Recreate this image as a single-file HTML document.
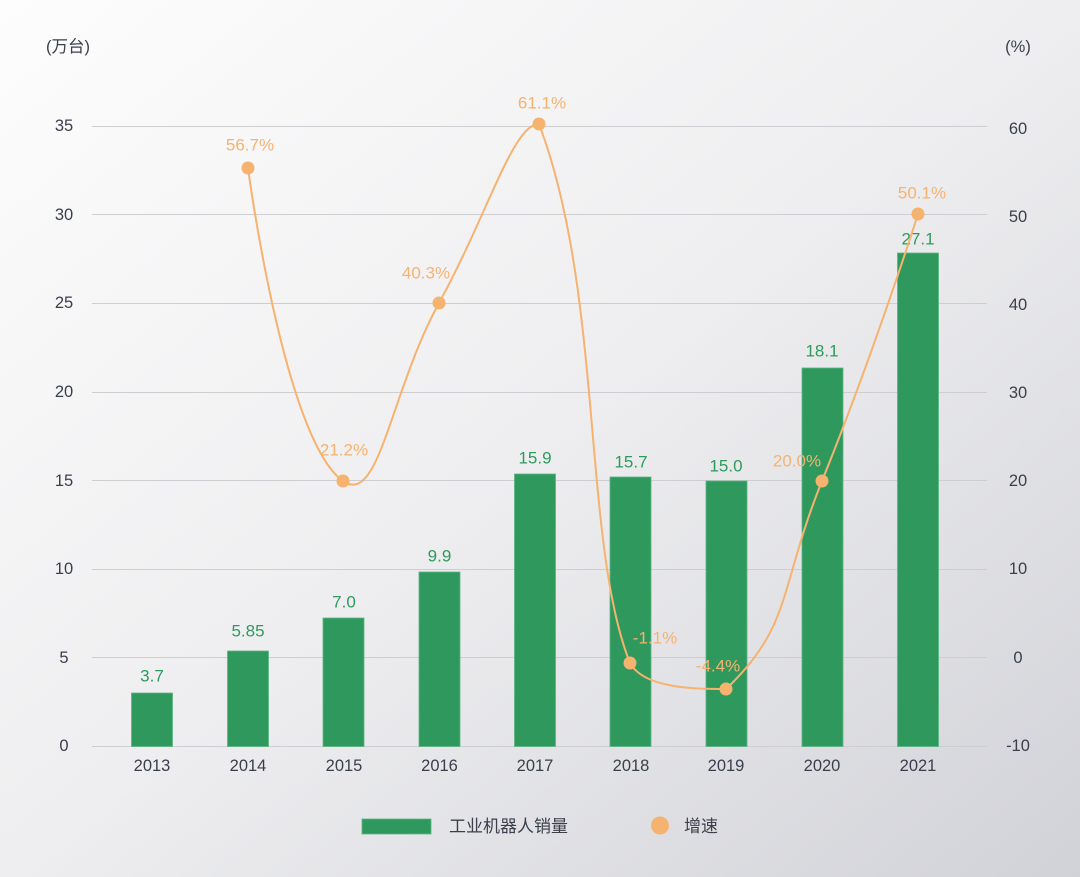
<!DOCTYPE html>
<html>
<head>
<meta charset="utf-8">
<style>
  html,body{margin:0;padding:0;}
  body{width:1080px;height:877px;overflow:hidden;}
  svg{display:block;}
  text{font-family:"Liberation Sans","Noto Sans CJK SC",sans-serif;}
</style>
</head>
<body>
<svg width="1080" height="877" viewBox="0 0 1080 877" xmlns="http://www.w3.org/2000/svg">
  <defs>
    <linearGradient id="bg" x1="0" y1="0" x2="1" y2="1">
      <stop offset="0" stop-color="#fdfdfd"/>
      <stop offset="0.5" stop-color="#eeeef0"/>
      <stop offset="1" stop-color="#d1d2d8"/>
    </linearGradient>
  </defs>
  <rect x="0" y="0" width="1080" height="877" fill="url(#bg)"/>

  <!-- gridlines -->
  <g stroke="#cdcdd2" stroke-width="1">
    <line x1="92" y1="126.5" x2="987" y2="126.5"/>
    <line x1="92" y1="214.5" x2="987" y2="214.5"/>
    <line x1="92" y1="303.5" x2="987" y2="303.5"/>
    <line x1="92" y1="392.5" x2="987" y2="392.5"/>
    <line x1="92" y1="480.5" x2="987" y2="480.5"/>
    <line x1="92" y1="569.5" x2="987" y2="569.5"/>
    <line x1="92" y1="657.5" x2="987" y2="657.5"/>
    <line x1="92" y1="746.5" x2="987" y2="746.5"/>
  </g>

  <!-- axis titles -->
  <g fill="#3a3f4b" font-size="16.5" dominant-baseline="central">
    <text x="68" y="47" text-anchor="middle">(万台)</text>
    <text x="1018" y="47" text-anchor="middle">(%)</text>
  </g>

  <!-- left ticks -->
  <g fill="#3a3f4b" font-size="16.5" text-anchor="middle" dominant-baseline="central">
    <text x="64" y="126">35</text>
    <text x="64" y="215">30</text>
    <text x="64" y="303">25</text>
    <text x="64" y="392">20</text>
    <text x="64" y="481">15</text>
    <text x="64" y="569">10</text>
    <text x="64" y="658">5</text>
    <text x="64" y="746">0</text>
  </g>

  <!-- right ticks -->
  <g fill="#3a3f4b" font-size="16.5" text-anchor="middle" dominant-baseline="central">
    <text x="1018" y="129">60</text>
    <text x="1018" y="217">50</text>
    <text x="1018" y="305">40</text>
    <text x="1018" y="393">30</text>
    <text x="1018" y="481">20</text>
    <text x="1018" y="569">10</text>
    <text x="1018" y="658">0</text>
    <text x="1018" y="746">-10</text>
  </g>

  <!-- bars -->
  <g fill="#2f995d" stroke="#5cb584" stroke-width="0.8">
    <rect x="131.5" y="693" width="41" height="53.5"/>
    <rect x="227.5" y="651" width="41" height="95.5"/>
    <rect x="323" y="618" width="41" height="128.5"/>
    <rect x="419" y="572" width="41" height="174.5"/>
    <rect x="514.5" y="474" width="41" height="272.5"/>
    <rect x="610" y="477" width="41" height="269.5"/>
    <rect x="706" y="481" width="41" height="265.5"/>
    <rect x="802" y="368" width="41" height="378.5"/>
    <rect x="897.5" y="253" width="41" height="493.5"/>
  </g>

  <!-- bar value labels -->
  <g fill="#2e9a5e" font-size="17" text-anchor="middle" dominant-baseline="central">
    <text x="152" y="676">3.7</text>
    <text x="248" y="631">5.85</text>
    <text x="344" y="602">7.0</text>
    <text x="439.5" y="556">9.9</text>
    <text x="535" y="458">15.9</text>
    <text x="631" y="462">15.7</text>
    <text x="726" y="466">15.0</text>
    <text x="822" y="351">18.1</text>
    <text x="918" y="239">27.1</text>
  </g>

  <!-- x labels -->
  <g fill="#3a3f4b" font-size="16.5" text-anchor="middle" dominant-baseline="central">
    <text x="152" y="766">2013</text>
    <text x="248" y="766">2014</text>
    <text x="344" y="766">2015</text>
    <text x="439.5" y="766">2016</text>
    <text x="535" y="766">2017</text>
    <text x="631" y="766">2018</text>
    <text x="726" y="766">2019</text>
    <text x="822" y="766">2020</text>
    <text x="918" y="766">2021</text>
  </g>

  <!-- growth line -->
  <path d="M248,168 C248,168 284,439.3 343,481 C379.5,506.8 390.3,391.6 439,303 C488.3,213.1 513,124 539,124 C603.75,294 582,543 630,663 C644.4,689 696.9,689 726,689 C792.9,625.6 779.1,587.1 822,481 C875.1,349.6 918,214 918,214"
        fill="none" stroke="#f6b26f" stroke-width="2"/>
  <g fill="#f6b26f">
    <circle cx="248" cy="168" r="6.5"/>
    <circle cx="343" cy="481" r="6.5"/>
    <circle cx="439" cy="303" r="6.5"/>
    <circle cx="539" cy="124" r="6.5"/>
    <circle cx="630" cy="663" r="6.5"/>
    <circle cx="726" cy="689" r="6.5"/>
    <circle cx="822" cy="481" r="6.5"/>
    <circle cx="918" cy="214" r="6.5"/>
  </g>

  <!-- percent labels -->
  <g fill="#f6b26f" font-size="17" text-anchor="middle" dominant-baseline="central">
    <text x="250" y="145">56.7%</text>
    <text x="344" y="450">21.2%</text>
    <text x="426" y="273">40.3%</text>
    <text x="542" y="103">61.1%</text>
    <text x="655" y="638">-1.1%</text>
    <text x="718" y="666">-4.4%</text>
    <text x="797" y="461">20.0%</text>
    <text x="922" y="193">50.1%</text>
  </g>

  <!-- legend -->
  <rect x="362" y="819" width="69" height="15" fill="#2f995d" stroke="#5cb584" stroke-width="0.8"/>
  <text x="449" y="826.5" fill="#3a3f4b" font-size="17" dominant-baseline="central">工业机器人销量</text>
  <circle cx="660" cy="825.5" r="9" fill="#f6b26f"/>
  <text x="684" y="826.5" fill="#3a3f4b" font-size="17" dominant-baseline="central">增速</text>
</svg>
</body>
</html>
